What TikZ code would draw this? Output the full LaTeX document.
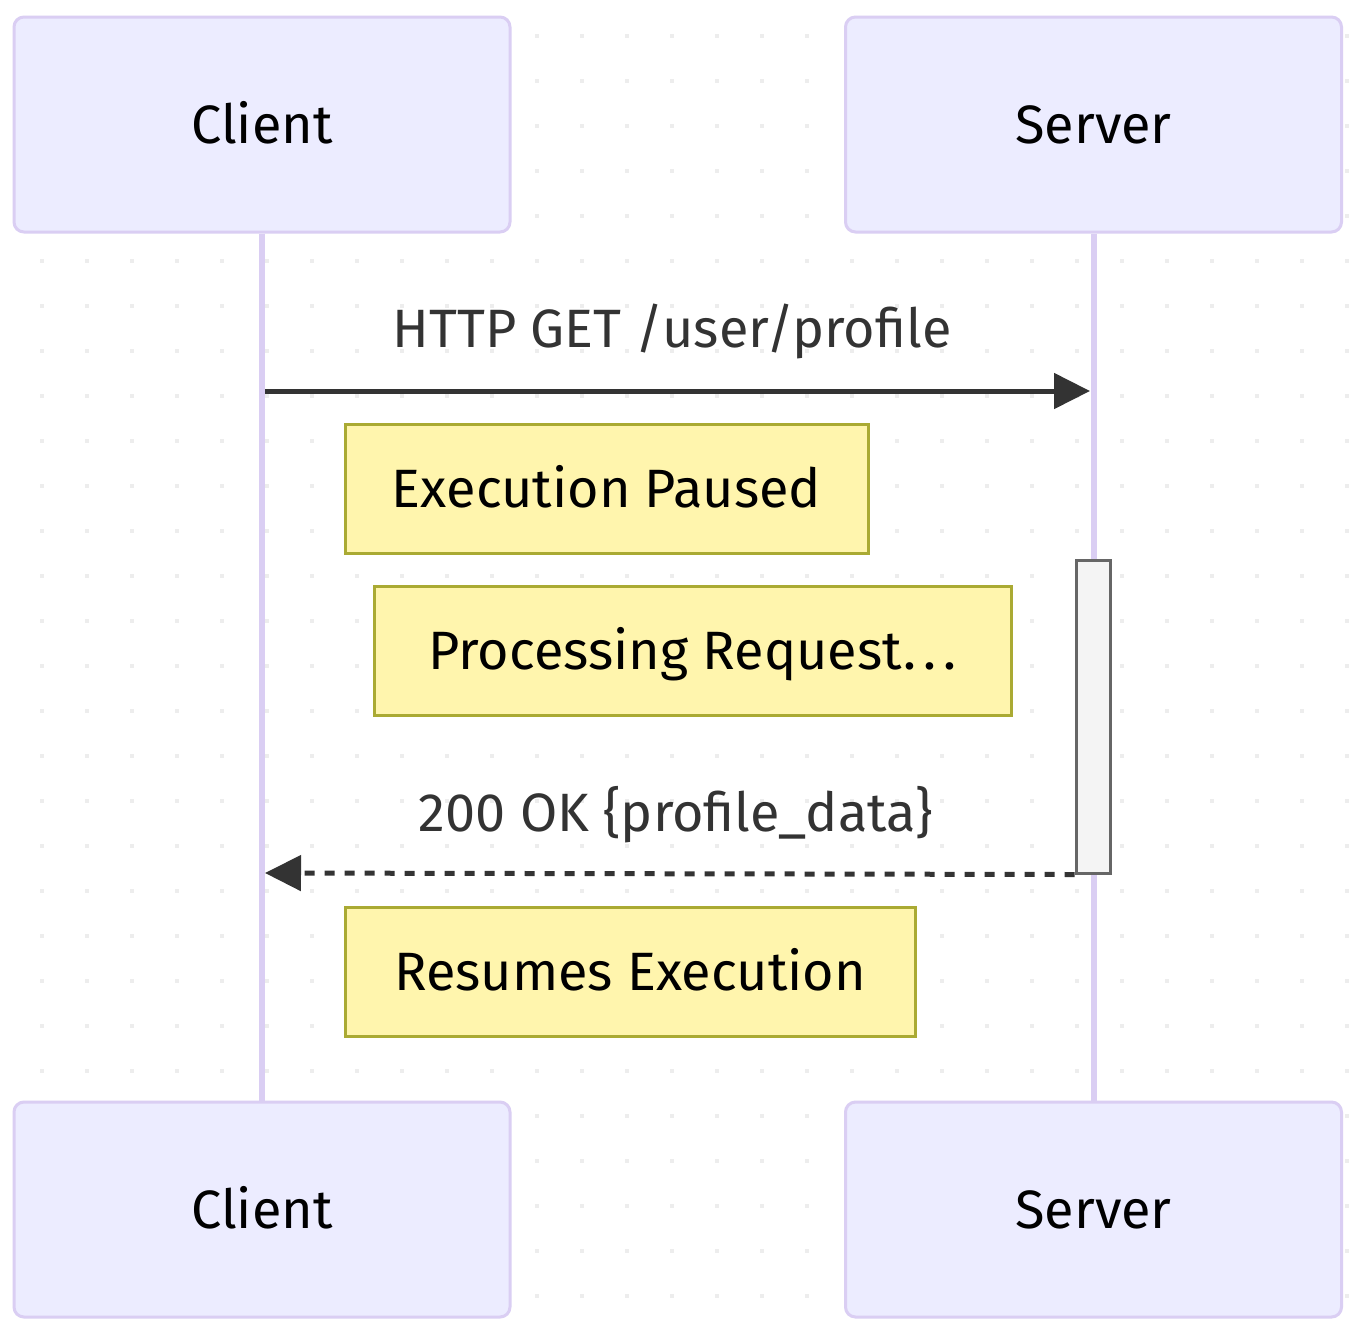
\documentclass[tikz,border=0pt]{standalone}
\usepackage{fontspec}
\setmainfont{Fira Sans}
\usetikzlibrary{arrows.meta}
\definecolor{actorfill}{HTML}{ECECFF}
\definecolor{actorline}{HTML}{DACEF3}
\definecolor{notefill}{HTML}{FFF5AD}
\definecolor{noteline}{HTML}{AAAA33}
\definecolor{actfill}{HTML}{F4F4F4}
\definecolor{actline}{HTML}{666666}
\definecolor{sig}{HTML}{333333}
\definecolor{dotc}{HTML}{EDEDED}
\tikzset{
  bigfont/.style={font=\fontsize{54}{60}\selectfont, text height=37.2pt, text depth=0pt},
  actorbox/.style={draw=actorline, fill=actorfill, line width=3pt, rounded corners=10pt,
    minimum width=496pt, minimum height=215pt, inner sep=0pt, bigfont, text=black},
  notebox/.style={draw=noteline, fill=notefill, line width=3pt,
    minimum height=129pt, inner sep=0pt, bigfont, text=black},
  actbox/.style={draw=actline, fill=actfill, line width=3pt, minimum width=34pt,
    minimum height=313pt, inner sep=0pt},
  lifeline/.style={draw=actorline, line width=6pt},
  msg/.style={draw=sig, line width=5pt, -{Triangle[length=36pt,width=35pt]}},
  msglabel/.style={bigfont, text=sig, inner sep=0pt}
}
\begin{document}
\begin{tikzpicture}[x=1pt,y=-1pt]
\useasboundingbox (0,0) rectangle (1356,1326);
\fill[white] (0,0) rectangle (1356,1326);
% dotted background grid
\foreach \i in {0,...,29}{
  \foreach \j in {0,...,28}{
    \fill[dotc] ({42+45*\i-2},{36+45*\j-2}) rectangle ++(4,4);
  }
}
% actors
\node[actorbox] (ctop) at (262,124.5) {Client};
\node[actorbox] (stop) at (1093.5,124.5) {Server};
\node[actorbox] (cbot) at (262,1209.5) {Client};
\node[actorbox] (sbot) at (1093.5,1209.5) {Server};
% lifelines
\draw[lifeline] (ctop.south) -- (cbot.north);
\draw[lifeline] (stop.south) -- (sbot.north);
% activation
\node[actbox] (act) at (1093,716.5) {};
% notes
\node[notebox, minimum width=523pt] (n1) at (606.5,488.5) {Execution Paused};
\node[notebox, minimum width=637pt] (n2) at (692.5,650.5) {Processing Request\hspace{2pt}.\hspace{7pt}.\hspace{7pt}.};
\node[notebox, minimum width=570pt] (n3) at (630,971.5) {Resumes Execution};
% messages
\coordinate (m1s) at (265,391);
\coordinate (m1e) at (1090,391);
\draw[msg] (m1s) -- (m1e);
\node[msglabel] (l1) at (672,328.5) {HTTP GET /user/profile};
\coordinate (m2s) at (act.south west);
\coordinate (m2e) at (265,873);
\draw[msg, dash pattern=on 10pt off 10pt] (m2s) -- (m2e);
\node[msglabel] (l2) at (676,812.5) {200 OK \{profile\_data\}};
\end{tikzpicture}
\end{document}
